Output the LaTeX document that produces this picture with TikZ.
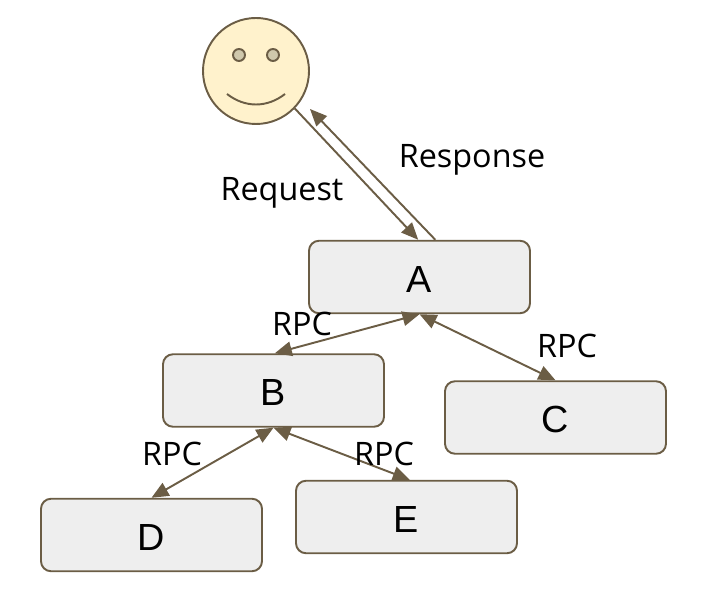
\documentclass[tikz,border=0pt]{standalone}
\usepackage{fontspec}
\setmainfont{Liberation Sans}
\newfontfamily\labelfont{Open Sans}
\usetikzlibrary{arrows.meta}
\definecolor{linecol}{HTML}{6B5D45}
\definecolor{boxcol}{HTML}{EEEEEE}
\definecolor{facecol}{HTML}{FFF2CC}
\definecolor{eyecol}{HTML}{CFC8AC}
\tikzset{>={Stealth[length=3.4mm,width=2.9mm,inset=0pt]}}
\tikzset{
    server/.style={draw=linecol, fill=boxcol, line width=1.1pt, rounded corners=2mm,
        minimum width=4.42cm, minimum height=1.45cm, inner sep=0pt, text height=0.62cm, text depth=0pt,
        font=\fontsize{21.5}{22}\selectfont},
    link/.style={draw=linecol, line width=1.1pt},
    tag/.style={inner sep=0pt, font=\labelfont\fontsize{18.4}{19}\selectfont}
}

\begin{document}
\begin{tikzpicture}
                \useasboundingbox (0, 0) rectangle (14.04, 11.84);

                % user
                \node[circle, draw=linecol, fill=facecol, line width=1.1pt, minimum size=2.12cm, inner sep=0pt] (user) at (5.12, 10.42) {};
                \node[circle, draw=linecol, fill=eyecol, line width=1.1pt, minimum size=0.24cm, inner sep=0pt] (eyeL) at (4.78, 10.74) {};
                \node[circle, draw=linecol, fill=eyecol, line width=1.1pt, minimum size=0.24cm, inner sep=0pt] (eyeR) at (5.46, 10.74) {};
                \draw[link] (4.54, 9.96) .. controls (4.9, 9.68) and (5.34, 9.68) .. (5.7, 9.96);

                % servers
                \node[server] (a) at (8.39, 6.30) {A};
                \node[server] (b) at (5.47, 4.03) {B};
                \node[server] (c) at (11.11, 3.49) {C};
                \node[server] (d) at (3.03, 1.14) {D};
                \node[server] (e) at (8.13, 1.50) {E};

                \coordinate (back) at (6.2, 9.66);

                \draw[link, ->] (user.-44) -- (a.92);
                \draw[link, ->] (a.67) -- (back);
                \draw[link, <->] (a.south) -- (b.88);
                \draw[link, <->] (a.south) -- (c.north);
                \draw[link, <->] (b.south) -- (d.north);
                \draw[link, <->] (b.south) -- (e.85);

                \node[tag] (request) at (5.64, 7.98) {Request};
                \node[tag] (response) at (9.44, 8.64) {Response};
                \node[tag] (rpcab) at (6.04, 5.36) {RPC};
                \node[tag] (rpcac) at (11.34, 4.92) {RPC};
                \node[tag] (rpcbd) at (3.44, 2.76) {RPC};
                \node[tag] (rpcbe) at (7.68, 2.76) {RPC};
\end{tikzpicture}
\end{document}
